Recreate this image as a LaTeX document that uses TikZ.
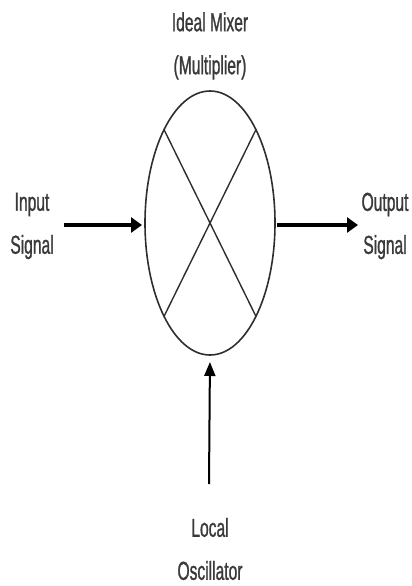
\documentclass[tikz,border=0pt]{standalone}
\usepackage{fontspec}
\usetikzlibrary{shapes.geometric,arrows.meta}
\newfontfamily\lblfont[FakeStretch=0.6,FakeBold=1]{Liberation Sans}
\definecolor{txtgray}{HTML}{3A3A3A}
\definecolor{linegray}{HTML}{2E2E2E}
\tikzset{
  lbl/.style={align=center, text=txtgray, font=\lblfont\fontsize{26}{43}\selectfont, inner sep=0pt},
  mixer/.style={ellipse, draw=linegray, line width=1.6pt, minimum width=130pt, minimum height=264pt, inner sep=0pt, outer sep=0pt},
  crossline/.style={draw=linegray, line width=1.4pt},
  thickarrow/.style={line width=4.5pt, -{Triangle[length=11pt,width=15pt]}},
  thinarrow/.style={line width=2pt, -{Triangle[length=14pt,width=11pt]}}
}
\begin{document}
\begin{tikzpicture}[x=1pt,y=-1pt]
\useasboundingbox (0,0) rectangle (412,586);
\node[mixer] (mix) at (210,223) {};
\draw[crossline] (mix.north west) -- (mix.south east);
\draw[crossline] (mix.north east) -- (mix.south west);
\node[lbl] (top) at (210,46) {Ideal Mixer\\(Multiplier)};
\node[lbl] (inlbl) at (32,226) {Input\\Signal};
\node[lbl] (outlbl) at (385,226) {Output\\Signal};
\node[lbl] (lolbl) at (210,549) {Local\\Oscillator};
\coordinate (inst) at (64,225);
\coordinate (outend) at (358,225);
\coordinate (lost) at (209,484);
\draw[thickarrow, shorten >=3pt] (inst) -- (mix.west |- inst);
\draw[thickarrow, shorten <=2pt] (mix.east |- outend) -- (outend);
\draw[thinarrow, shorten >=7pt] (lost) -- (mix.south);
\end{tikzpicture}
\end{document}
